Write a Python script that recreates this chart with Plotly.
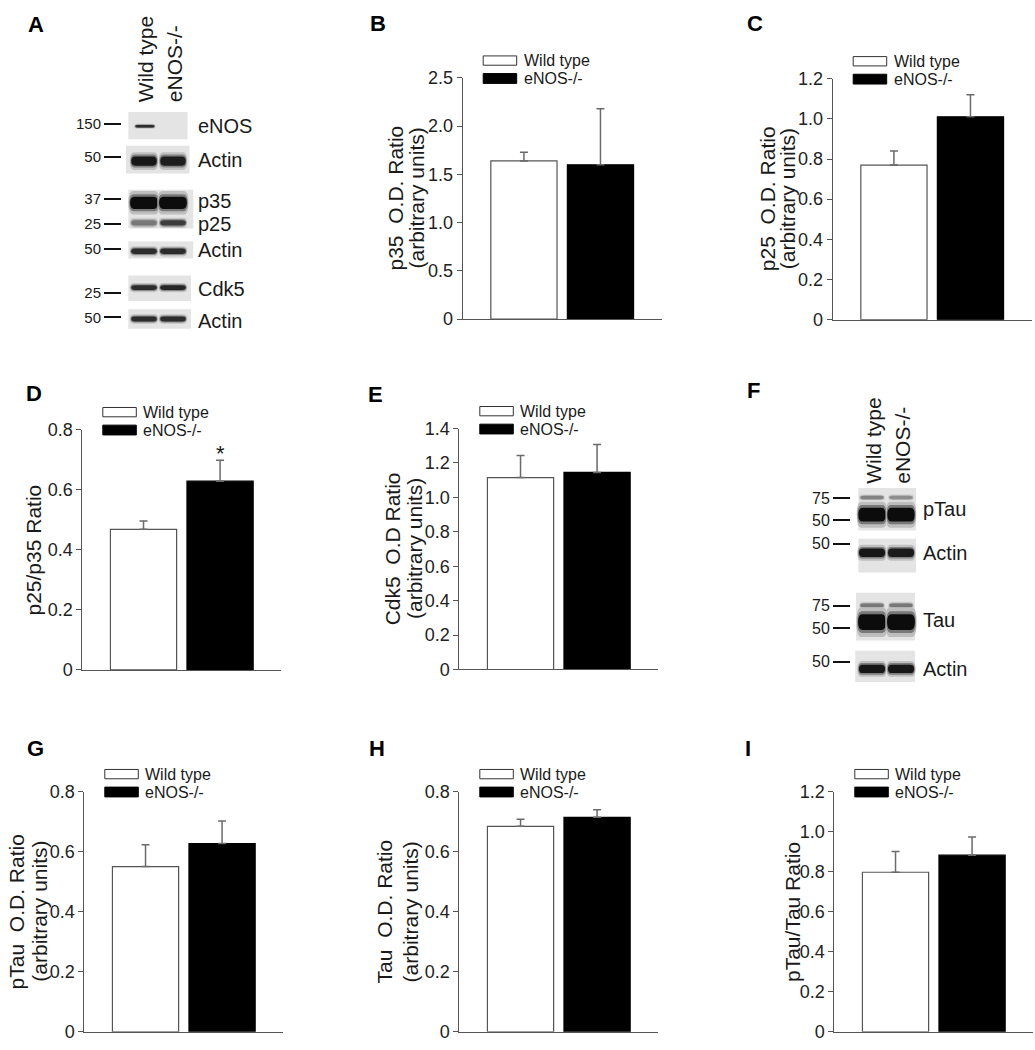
import plotly.graph_objects as go

# ---------------- DATA ----------------
groups = ["Wild type", "eNOS-/-"]

p35_mean = [1.64, 1.60]
p35_sem = [0.09, 0.58]
p25_mean = [0.77, 1.01]
p25_sem = [0.07, 0.11]
p25p35_mean = [0.468, 0.628]
p25p35_sem = [0.028, 0.070]
p25p35_sig = ["", "*"]
cdk5_mean = [1.115, 1.145]
cdk5_sem = [0.128, 0.162]
ptau_mean = [0.550, 0.627]
ptau_sem = [0.073, 0.075]
tau_mean = [0.684, 0.714]
tau_sem = [0.024, 0.025]
ptautau_mean = [0.797, 0.882]
ptautau_sem = [0.104, 0.091]

# western blot A: band names, marker sizes (kDa), band intensities per lane
blotA_markers = ["150", "50", "37", "25", "50", "25", "50"]
blotA_rows = ["eNOS", "Actin", "p35", "p25", "Actin", "Cdk5", "Actin"]
blotA_wt = [0.85, 0.95, 1.00, 0.50, 0.85, 0.85, 0.85]
blotA_ko = [0.00, 0.92, 1.00, 0.78, 0.85, 0.88, 0.85]

# western blot F
blotF_markers = ["75", "50", "50", "75", "50", "50"]
blotF_rows = ["pTau", "Actin", "Tau", "Actin"]
blotF_bands = ["pTau 75", "pTau", "Actin", "Tau 75", "Tau", "Actin"]
blotF_wt = [0.45, 1.00, 0.95, 0.50, 1.00, 0.95]
blotF_ko = [0.40, 1.00, 0.93, 0.50, 1.00, 0.95]

# ---------------- LAYOUT HELPERS ----------------
W, H = 1035, 1050
FONT = "Liberation Sans, Arial, sans-serif"
TXT = "#1a1a1a"
AX = "#555555"


def fx(px):
    return px / W


def fy(py):
    return 1 - py / H


fig = go.Figure()
shapes = []
annotations = []

# panel geometry: (axis x px, top px, bottom px)
panels = [
    dict(key="B", ax=462.7, top=69.3, bot=315.0, mean=p35_mean, sem=p35_sem, ymax=2.5, step=0.5,
         title=["p35\u00a0 O.D. Ratio", "(arbitrary units)"], toff=[-67.7, -46.7], sig=None),
    dict(key="C", ax=832.7, top=70.0, bot=315.7, mean=p25_mean, sem=p25_sem, ymax=1.2, step=0.2,
         title=["p25\u00a0 O.D. Ratio", "(arbitrary units)"], toff=[-65.7, -45.7], sig=None),
    dict(key="D", ax=82.3, top=427.7, bot=672.7, mean=p25p35_mean, sem=p25p35_sem, ymax=0.8, step=0.2,
         title=["p25/p35 Ratio"], toff=[-48.5], sig=p25p35_sig),
    dict(key="E", ax=459.3, top=426.7, bot=672.3, mean=cdk5_mean, sem=cdk5_sem, ymax=1.4, step=0.2,
         title=["Cdk5\u00a0 O.D Ratio", "(arbitrary units)"], toff=[-67.0, -45.3], sig=None),
    dict(key="G", ax=84.3, top=796.7, bot=1041.7, mean=ptau_mean, sem=ptau_sem, ymax=0.8, step=0.2,
         title=["pTau\u00a0 O.D. Ratio", "(arbitrary units)"], toff=[-67.6, -44.3], sig=None),
    dict(key="H", ax=459.3, top=796.7, bot=1041.7, mean=tau_mean, sem=tau_sem, ymax=0.8, step=0.2,
         title=["Tau\u00a0 O.D. Ratio", "(arbitrary units)"], toff=[-74.6, -48.6], sig=None),
    dict(key="I", ax=834.3, top=796.7, bot=1041.7, mean=ptautau_mean, sem=ptautau_sem, ymax=1.2, step=0.2,
         title=["pTau/Tau Ratio"], toff=[-42.0], sig=None),
]

AXW = 199
layout_axes = {}
for i, p in enumerate(panels, start=1):
    xa = "x" if i == 1 else f"x{i}"
    ya = "y" if i == 1 else f"y{i}"
    xk = "xaxis" if i == 1 else f"xaxis{i}"
    yk = "yaxis" if i == 1 else f"yaxis{i}"
    fig.add_trace(go.Bar(
        x=groups, y=p["mean"], width=0.865,
        marker=dict(color=["white", "black"], line=dict(color=[AX, "#000000"], width=1.2)),
        error_y=dict(type="data", array=p["sem"], arrayminus=[0, 0], symmetric=False,
                     color="#6a6a6a", thickness=1.5, width=4),
        xaxis=xa, yaxis=ya, showlegend=False, hoverinfo="skip",
    ))
    n = int(round(p["ymax"] / p["step"]))
    tv = [round(k * p["step"], 3) for k in range(n + 1)]
    tt = ["0" if v == 0 else f"{v:.1f}" for v in tv]
    layout_axes[xk] = dict(domain=[fx(p["ax"]), fx(p["ax"] + AXW)], anchor=ya, range=[-0.8, 1.8],
                           showticklabels=False, ticks="", showline=True, linecolor=AX, linewidth=1,
                           showgrid=False, zeroline=False, fixedrange=True, type="category")
    layout_axes[yk] = dict(domain=[fy(p["bot"]), fy(p["top"])], anchor=xa, range=[0, p["ymax"]],
                           tickvals=tv, ticktext=tt, ticks="outside", ticklen=5, tickcolor=AX,
                           tickwidth=1, showline=True, linecolor=AX, linewidth=1, showgrid=False,
                           zeroline=False, fixedrange=True, tickfont=dict(size=18, color="#222"))
    # axis titles (rotated)
    cy = (p["top"] + p["bot"]) / 2
    for line, off in zip(p["title"], p["toff"]):
        annotations.append(dict(x=fx(p["ax"] + off), y=fy(cy), xref="paper", yref="paper",
                                text=line, textangle=-90, showarrow=False, xanchor="center",
                                yanchor="middle", font=dict(size=21, color=TXT)))
    # significance marks
    if p["sig"]:
        for g, s, m, e in zip(groups, p["sig"], p["mean"], p["sem"]):
            if s:
                annotations.append(dict(x=g, y=m + e, xref=xa, yref=ya, text=s, showarrow=False,
                                        yanchor="bottom", yshift=-8, font=dict(size=22, color=TXT)))
    # legend boxes
    lx0 = p["ax"] + 20.5
    lx1 = lx0 + 33.5
    wt_top = p["top"] - 22.5
    ko_top = p["top"] - 4.5
    shapes.append(dict(type="rect", xref="paper", yref="paper", x0=fx(lx0), x1=fx(lx1),
                       y0=fy(wt_top), y1=fy(wt_top + 9.5), fillcolor="white",
                       line=dict(color="#333", width=1)))
    shapes.append(dict(type="rect", xref="paper", yref="paper", x0=fx(lx0), x1=fx(lx1),
                       y0=fy(ko_top), y1=fy(ko_top + 10), fillcolor="black",
                       line=dict(color="black", width=1)))
    for name, ty in zip(groups, [wt_top + 4.75, ko_top + 5]):
        annotations.append(dict(x=fx(lx1 + 5), y=fy(ty), xref="paper", yref="paper", text=name,
                                showarrow=False, xanchor="left", yanchor="middle",
                                font=dict(size=16, color=TXT)))

# ---------------- WESTERN BLOTS ----------------
BG_LEVEL = 228


def band_color(v):
    g = int(round(BG_LEVEL - v * (BG_LEVEL - 12)))
    return f"rgb({g},{g},{g})"


def band_path(xc, hw, yc, hh):
    x0, x1 = xc - hw, xc + hw
    y0, y1 = yc - hh, yc + hh
    rx = hw * 0.3
    return (f"M {x0 + rx},{y0} L {x1 - rx},{y0} Q {x1},{y0} {x1},{yc} Q {x1},{y1} {x1 - rx},{y1} "
            f"L {x0 + rx},{y1} Q {x0},{y1} {x0},{yc} Q {x0},{y0} {x0 + rx},{y0} Z")


def add_blot(xname, yname, y2name, xdom, ydom, lanes_px, strips, band_y, band_h, band_hw, band_dx,
             wt, ko, marker_y, markers, label_y, labels, mfont):
    unit = lanes_px[1] - lanes_px[0]
    xr = [(xdom[0] - lanes_px[0]) / unit, 1 + (xdom[1] - lanes_px[1]) / unit]
    xs = xname.replace("axis", "")
    ys = yname.replace("axis", "")
    y2s = y2name.replace("axis", "")
    fig.add_trace(go.Scatter(x=[None], y=[None], xaxis=xs, yaxis=ys, showlegend=False, hoverinfo="skip"))
    fig.add_trace(go.Scatter(x=[None], y=[None], xaxis=xs, yaxis=y2s, showlegend=False, hoverinfo="skip"))
    layout_axes[xname] = dict(domain=[fx(xdom[0]), fx(xdom[1])], anchor=ys, side="top", range=xr,
                              tickvals=[0, 1], ticktext=groups, tickangle=-90, ticks="",
                              showline=False, showgrid=False, zeroline=False, fixedrange=True,
                              tickfont=dict(size=21, color=TXT), ticklabelshift=2)
    layout_axes[yname] = dict(domain=[fy(ydom[1]), fy(ydom[0])], anchor=xs, range=[ydom[1], ydom[0]],
                              tickvals=marker_y, ticktext=markers, ticks="outside", ticklen=17,
                              tickwidth=2.2, tickcolor="#111", showline=False, showgrid=False,
                              zeroline=False, fixedrange=True, tickfont=dict(size=mfont, color=TXT))
    layout_axes[y2name] = dict(domain=[fy(ydom[1]), fy(ydom[0])], anchor=xs, overlaying=ys, side="right",
                               range=[ydom[1], ydom[0]], tickvals=label_y, ticktext=labels, ticks="",
                               showline=False, showgrid=False, zeroline=False, fixedrange=True,
                               tickfont=dict(size=20, color=TXT))
    for (sx0, sx1, sy0, sy1) in strips:
        shapes.append(dict(type="rect", xref=xs, yref=ys, x0=sx0, x1=sx1, y0=sy0, y1=sy1,
                           fillcolor=band_color(0), line=dict(width=0), layer="above"))
    # soft bands: three stacked layers (halo -> core)
    layers = [(1.12, 1.9, 0.18), (1.06, 1.4, 0.5), (1.0, 1.0, 1.0)]
    for k in range(len(band_y)):
        for lane, vals in enumerate([wt, ko]):
            v = vals[k]
            if v <= 0:
                continue
            xc = lane + band_dx[k]
            for sw, sh, sv in layers:
                shapes.append(dict(type="path", xref=xs, yref=ys,
                                   path=band_path(xc, band_hw[k] * sw, band_y[k], band_h[k] / 2 * sh),
                                   fillcolor=band_color(v * sv), line=dict(width=0)))


# blot A geometry
add_blot("xaxis8", "yaxis8", "yaxis9", xdom=[122, 197], ydom=[95, 330], lanes_px=[144, 173],
         strips=[(-0.54, 1.50, 104, 131.7), (-0.62, 1.57, 138.3, 166.7), (-0.54, 1.70, 183.3, 222.7),
                 (-0.54, 1.70, 236, 253.3), (-0.54, 1.62, 270.7, 296.7), (-0.54, 1.62, 305, 325)],
         band_y=[118.5, 154, 196.5, 217, 246, 283, 315],
         band_h=[2.6, 9.5, 12.5, 5.5, 5.5, 5, 5],
         band_hw=[0.33, 0.44, 0.48, 0.44, 0.44, 0.44, 0.44],
         band_dx=[0.03, 0, 0, 0, 0, 0, 0],
         wt=blotA_wt, ko=blotA_ko,
         marker_y=[116, 150, 192.7, 218.3, 243.3, 288.3, 313.3], markers=blotA_markers,
         label_y=[118, 153, 195, 218, 245, 284, 316.7], labels=blotA_rows, mfont=15)

# blot F geometry
add_blot("xaxis10", "yaxis10", "yaxis11", xdom=[851, 922], ydom=[484, 690], lanes_px=[872, 901],
         strips=[(-0.47, 1.52, 487.3, 530.7), (-0.47, 1.52, 539, 573.3), (-0.55, 1.48, 594, 642.7),
                 (-0.58, 1.48, 653.3, 685)],
         band_y=[497, 514.5, 553.3, 607, 624, 671.7],
         band_h=[3.5, 14, 8.5, 4, 16, 8.5],
         band_hw=[0.4, 0.47, 0.45, 0.4, 0.48, 0.45],
         band_dx=[0, 0, 0, 0, 0, 0],
         wt=blotF_wt, ko=blotF_ko,
         marker_y=[497.7, 520, 544, 607.3, 630, 664.3], markers=blotF_markers,
         label_y=[508.3, 554, 621.7, 671.7], labels=blotF_rows, mfont=16)

# panel letters
letters = [("A", 35.5, 14.7), ("B", 378, 13.3), ("C", 755, 13.3), ("D", 34, 390.8), ("E", 375, 391.7),
           ("F", 753.7, 387.5), ("G", 35.8, 753.3), ("H", 376.7, 753.3), ("I", 748.3, 753.3)]
for t, x, y in letters:
    annotations.append(dict(x=fx(x), y=fy(y), xref="paper", yref="paper", text=f"<b>{t}</b>",
                            showarrow=False, xanchor="center", yanchor="middle",
                            font=dict(size=22, color="#000")))

fig.update_layout(
    width=W, height=H, margin=dict(l=0, r=0, t=0, b=0, pad=0),
    paper_bgcolor="white", plot_bgcolor="white",
    font=dict(family=FONT, color=TXT),
    showlegend=False, shapes=shapes, annotations=annotations, **layout_axes,
)

fig.write_html("out.html", config={"displayModeBar": False},
               post_script="document.body.style.margin='0';document.body.style.overflow='hidden';")
